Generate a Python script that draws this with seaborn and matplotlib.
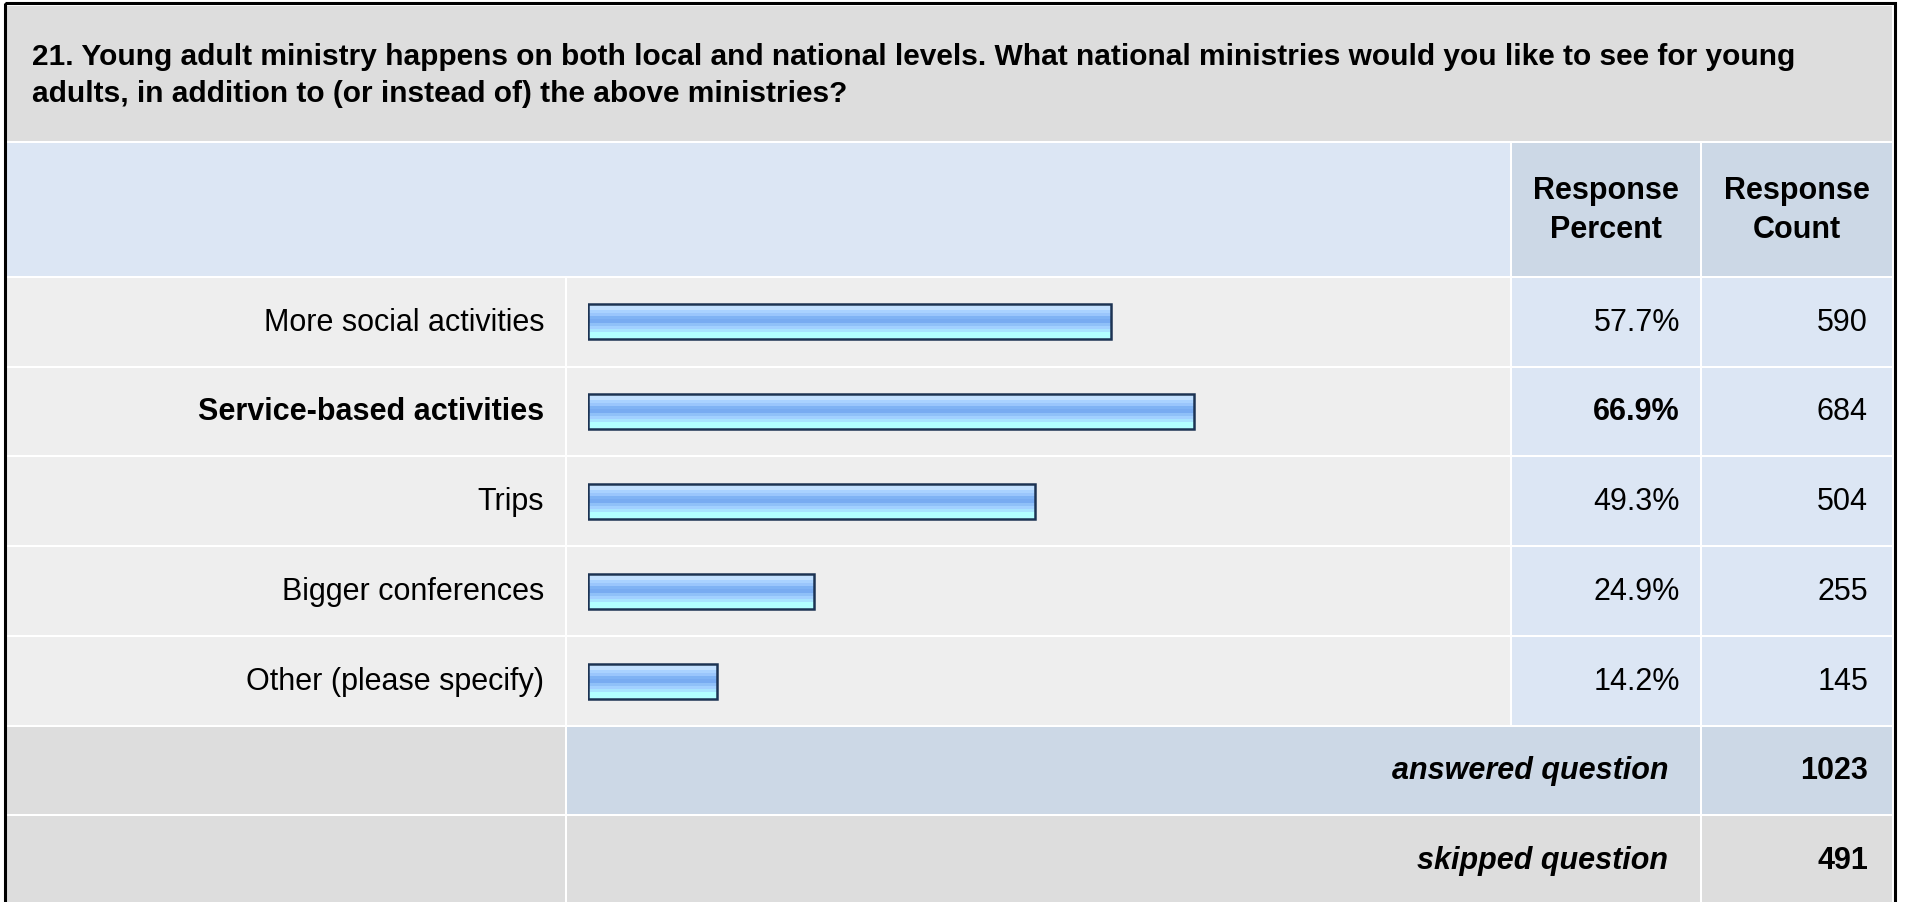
import numpy as np
import matplotlib
matplotlib.use("Agg")
import matplotlib.pyplot as plt
from matplotlib.patches import Rectangle
from matplotlib.colors import to_rgb
import seaborn as sns

# ---------------- data ----------------
title_lines = [
    "21. Young adult ministry happens on both local and national levels. What national ministries would you like to see for young",
    "adults, in addition to (or instead of) the above ministries?",
]
categories = [
    "More social activities",
    "Service-based activities",
    "Trips",
    "Bigger conferences",
    "Other (please specify)",
]
percents = [57.7, 66.9, 49.3, 24.9, 14.2]
counts = [590, 684, 504, 255, 145]
answered = 1023
skipped = 491

# ---------------- style ----------------
sns.set_style("white")
plt.rcParams["font.family"] = ["Liberation Sans", "DejaVu Sans"]
plt.rcParams["text.color"] = "black"

W, H = 1907, 903
FS = 22
GRAY = "#dddddd"
LIGHT = "#eeeeee"
BLUE_LT = "#dce6f4"
BLUE_MD = "#ccd8e6"

# column edges (pixels)
c0 = (7, 565)
c1 = (567, 1510)
c2 = (1512, 1700)
c3 = (1702, 1892)
row_edges = [144, 278, 368, 457, 547, 637, 727, 816, 906]

fig = plt.figure(figsize=(W / 100, H / 100), dpi=100)
ax = fig.add_axes([0, 0, 1, 1])
ax.set_xlim(0, W)
ax.set_ylim(H, 0)
ax.axis("off")


def cell(x, y, color):
    ax.add_patch(Rectangle((x[0], y[0]), x[1] - x[0], y[1] - y[0],
                           facecolor=color, edgecolor="none", zorder=1))


# title band
cell((7, 1892), (7, 142), GRAY)
for i, line in enumerate(title_lines):
    ax.text(32, 57 + 37 * i, line, fontsize=21.5, fontweight="bold",
            ha="left", va="center", zorder=3)

# header row
hy = (row_edges[0], row_edges[1] - 1)
cell((7, 1510), hy, BLUE_LT)
cell(c2, hy, BLUE_MD)
cell(c3, hy, BLUE_MD)
hc = (hy[0] + hy[1]) / 2
ax.text((c2[0] + c2[1]) / 2, hc, "Response\nPercent", fontsize=FS,
        fontweight="bold", ha="center", va="center", linespacing=1.35, zorder=3)
ax.text((c3[0] + c3[1]) / 2, hc, "Response\nCount", fontsize=FS,
        fontweight="bold", ha="center", va="center", linespacing=1.35, zorder=3)

# data rows
top_idx = int(np.argmax(percents))
for i, (cat, p, n) in enumerate(zip(categories, percents, counts)):
    ry = (row_edges[i + 1] + 1, row_edges[i + 2] - 1)
    cell(c0, ry, LIGHT)
    cell(c1, ry, LIGHT)
    cell(c2, ry, BLUE_LT)
    cell(c3, ry, BLUE_LT)
    yc = (ry[0] + ry[1]) / 2
    wt = "bold" if i == top_idx else "normal"
    ax.text(544, yc, cat, fontsize=FS, fontweight=wt, ha="right", va="center", zorder=3)
    ax.text(1680, yc, f"{p:.1f}%", fontsize=FS, fontweight=wt, ha="right", va="center", zorder=3)
    ax.text(1868, yc, f"{n}", fontsize=FS, ha="right", va="center", zorder=3)

# summary rows
ry = (row_edges[6] + 1, row_edges[7] - 1)
cell(c0, ry, GRAY)
cell((c1[0], c2[1]), ry, BLUE_MD)
cell(c3, ry, BLUE_MD)
yc = (ry[0] + ry[1]) / 2
ax.text(1668, yc, "answered question", fontsize=FS, fontweight="bold",
        fontstyle="italic", ha="right", va="center", zorder=3)
ax.text(1868, yc, f"{answered}", fontsize=FS, fontweight="bold", ha="right", va="center", zorder=3)

ry = (row_edges[7] + 1, row_edges[8] - 1)
cell(c0, ry, GRAY)
cell((c1[0], c2[1]), ry, GRAY)
cell(c3, ry, GRAY)
yc = (ry[0] + ry[1]) / 2
ax.text(1668, yc, "skipped question", fontsize=FS, fontweight="bold",
        fontstyle="italic", ha="right", va="center", zorder=3)
ax.text(1868, yc, f"{skipped}", fontsize=FS, fontweight="bold", ha="right", va="center", zorder=3)

# outer frame
ax.add_patch(Rectangle((5, 4), 1890, 960, facecolor="none", edgecolor="black",
                       linewidth=2.2, zorder=5))

# ---------------- bars ----------------
bx0, bx1 = 588, 1494
by0, by1 = row_edges[1], row_edges[6]
bax = fig.add_axes([bx0 / W, 1 - by1 / H, (bx1 - bx0) / W, (by1 - by0) / H])
bax.patch.set_alpha(0)
bar_w = 0.39
sns.barplot(x=percents, y=categories, orient="h", ax=bax, width=bar_w,
            color="#7eb2f4", saturation=1)
bax.set_xlim(0, 100)
bax.set_ylim(len(categories) - 0.5, -0.5)
bax.axis("off")

grad_cols = ["#d8ecff", "#c2e0ff", "#a9d2ff", "#9ac6fc", "#7fb3f4",
             "#78abf1", "#8fc0f8", "#a2d0ff", "#a8e4ff", "#b2ffff", "#b2ffff"]
grad = np.array([to_rgb(c) for c in grad_cols])[:, None, :]
for patch in bax.patches:
    x0, y0 = patch.get_x(), patch.get_y()
    pw, ph = patch.get_width(), patch.get_height()
    im = bax.imshow(grad, extent=(x0, x0 + pw, y0 + ph, y0), aspect="auto",
                    interpolation="nearest", zorder=2)
    im.set_clip_path(patch)
    patch.set_facecolor("none")
    patch.set_edgecolor("#1c3353")
    patch.set_linewidth(1.8)
    patch.set_zorder(3)
bax.set_xlim(0, 100)
bax.set_ylim(len(categories) - 0.5, -0.5)

fig.savefig("out.png", dpi=100, facecolor="white")
